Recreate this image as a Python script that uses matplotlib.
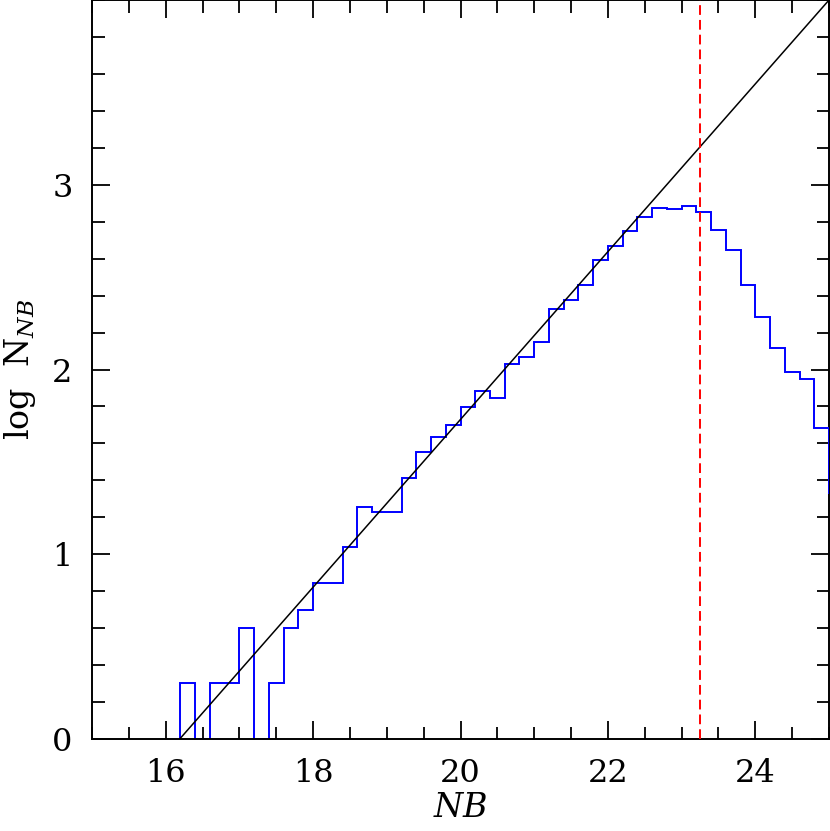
import matplotlib
matplotlib.use("Agg")
import matplotlib.pyplot as plt
import numpy as np
from matplotlib.ticker import MultipleLocator

# ---- data ----
bin_start = 16.2
bin_width = 0.2
log_counts = [0.301, 0.0, 0.301, 0.301, 0.602, 0.0, 0.301, 0.602, 0.699, 0.845,
              0.845, 1.041, 1.255, 1.230, 1.230, 1.415, 1.556, 1.633, 1.699, 1.799,
              1.881, 1.845, 2.029, 2.068, 2.149, 2.330, 2.377, 2.458, 2.591, 2.667,
              2.750, 2.823, 2.876, 2.867, 2.883, 2.854, 2.757, 2.649, 2.458, 2.285,
              2.115, 1.989, 1.946, 1.685, 1.330]
fit_slope = 0.454
fit_x0 = 16.19          # where fit crosses log N = 0
completeness_limit = 23.25
x_ticks = [16, 18, 20, 22, 24]
y_ticks = [0, 1, 2, 3]

plt.rcParams['font.family'] = ['DejaVu Serif']
plt.rcParams['mathtext.fontset'] = 'dejavuserif'

fig = plt.figure(figsize=(8.30, 8.31), dpi=100)
ax = fig.add_axes([92/830, 92/831, 737/830, 739/831])

edges = bin_start + bin_width * np.arange(len(log_counts) + 1)
ax.stairs(log_counts, edges, baseline=0, color='#0000ff', lw=1.4, zorder=2.55)

xf = np.array([fit_x0, 25.5])
ax.plot(xf, fit_slope * (xf - fit_x0), color='black', lw=1.1, zorder=3)

ax.axvline(completeness_limit, color='#ff0000', lw=1.4, dashes=(5, 2.6), zorder=3)

ax.set_xlim(15, 25)
ax.set_ylim(0, 4)
ax.set_xticks(x_ticks)
ax.set_yticks(y_ticks)
ax.xaxis.set_minor_locator(MultipleLocator(0.5))
ax.yaxis.set_minor_locator(MultipleLocator(0.2))
ax.tick_params(which='both', direction='in', top=True, right=True,
               labelsize=23, width=1.3, pad=14)
ax.tick_params(which='major', length=13)
ax.tick_params(which='minor', length=9)
for s in ax.spines.values():
    s.set_linewidth(1.4)
ax.spines['bottom'].set_zorder(2.6)

ax.set_xlabel('$NB$', fontsize=24, labelpad=2)
ax.set_ylabel(r'$\mathrm{log\ \ N}_{NB}$', fontsize=24, labelpad=10)

fig.savefig('out.png', dpi=100)
